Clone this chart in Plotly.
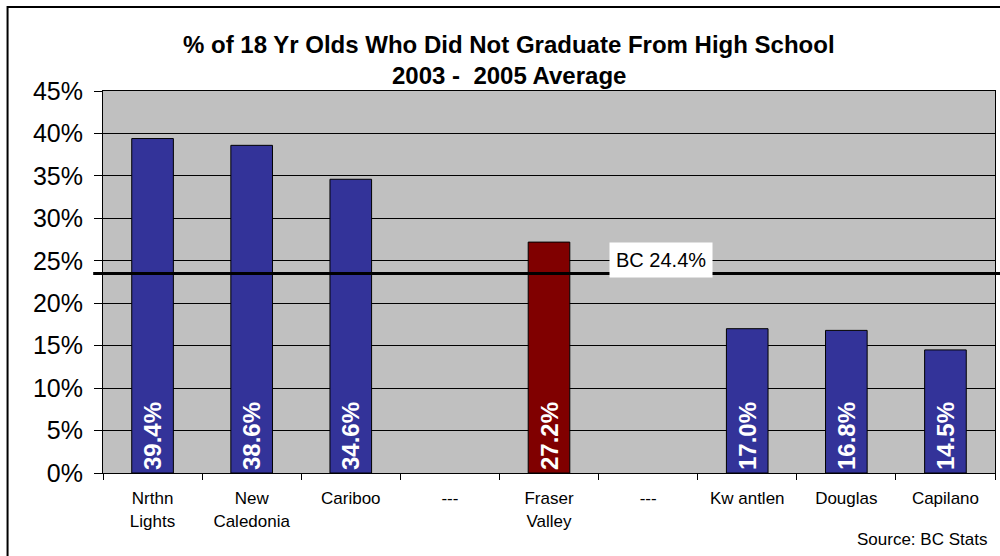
import plotly.graph_objects as go

categories = ["Nrthn<br>Lights", "New<br>Caledonia", "Cariboo", "---", "Fraser<br>Valley",
              "---&#8203;", "Kw antlen", "Douglas", "Capilano"]
values = [39.4, 38.6, 34.6, None, 27.2, None, 17.0, 16.8, 14.5]
labels = ["39.4%", "38.6%", "34.6%", "", "27.2%", "", "17.0%", "16.8%", "14.5%"]
colors = ["#333399", "#333399", "#333399", "#333399", "#800000",
          "#333399", "#333399", "#333399", "#333399"]
bc_line_value = 23.5
bc_label = "BC 24.4%"
y_ticks = [0, 5, 10, 15, 20, 25, 30, 35, 40, 45]
y_tick_labels = [f"{v}%" for v in y_ticks]

FONT = "Liberation Sans, Arial, sans-serif"

fig = go.Figure()
fig.add_trace(go.Bar(
    x=categories, y=values, width=0.42,
    marker=dict(color=colors, line=dict(color="black", width=1)),
    text=labels, textposition="inside", insidetextanchor="start",
    textangle=-90,
    textfont=dict(family=FONT, size=24, color="white", weight="bold"),
    hoverinfo="skip",
))

fig.update_layout(
    width=1000, height=556,
    margin=dict(l=103, r=5, t=91, b=83),
    paper_bgcolor="white", plot_bgcolor="#C0C0C0",
    showlegend=False,
    font=dict(family=FONT, color="black"),
)
fig.update_xaxes(
    type="category", tickson="boundaries", ticks="outside", ticklen=6,
    tickcolor="black", showline=True, linecolor="black", linewidth=1,
    mirror=True, tickfont=dict(size=17, family=FONT), showgrid=False,
    ticklabelstandoff=10,
)
fig.update_yaxes(
    range=[0, 45], tickvals=y_ticks, ticktext=y_tick_labels,
    ticks="outside", ticklen=8, tickcolor="black",
    showline=True, linecolor="black", linewidth=1, mirror=True,
    gridcolor="black", gridwidth=1, zeroline=False,
    tickfont=dict(size=25, family=FONT), ticklabelstandoff=6,
)

# BC average line extending beyond plot area
fig.add_shape(type="line", xref="paper", yref="y", x0=-0.011, x1=1.01,
              y0=bc_line_value, y1=bc_line_value,
              line=dict(color="black", width=3))
fig.add_annotation(xref="paper", yref="y", x=0.567, y=bc_line_value + 1.6,
                   text=bc_label, showarrow=False, xanchor="left",
                   bgcolor="white", borderpad=6,
                   font=dict(size=20, family=FONT, color="black"))

# Title lines
fig.add_annotation(xref="paper", yref="paper", x=0.455, y=1.0, yshift=47,
                   yanchor="middle",
                   text="<b>% of 18 Yr Olds Who Did Not Graduate From High School</b>",
                   showarrow=False, font=dict(size=24, family=FONT))
fig.add_annotation(xref="paper", yref="paper", x=0.455, y=1.0, yshift=16,
                   yanchor="middle",
                   text="<b>2003 -  2005 Average</b>",
                   showarrow=False, font=dict(size=24, family=FONT))

# Source
fig.add_annotation(xref="paper", yref="paper", x=0.993, y=0, yshift=-66,
                   yanchor="middle",
                   text="Source: BC Stats", showarrow=False, xanchor="right",
                   font=dict(size=17, family=FONT))

# Outer border
fig.add_shape(type="rect", xref="paper", yref="paper",
              x0=-0.107, x1=1.02, y0=-0.3, y1=1.22,
              line=dict(color="black", width=2), layer="below")

fig.write_html("out.html")
